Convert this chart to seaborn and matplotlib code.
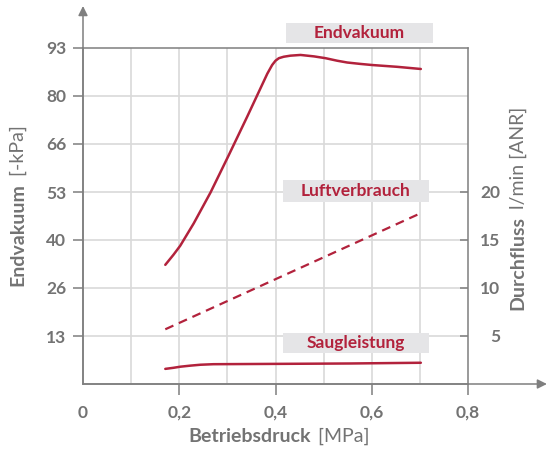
import pandas as pd
import matplotlib.pyplot as plt
import matplotlib.patches as mpatches
import seaborn as sns

# Data
druck_endvakuum = [0.171, 0.188, 0.202, 0.230, 0.265, 0.303, 0.341, 0.369, 0.383,
                   0.393, 0.400, 0.407, 0.417, 0.431, 0.452, 0.480, 0.504, 0.528,
                   0.549, 0.577, 0.601, 0.653, 0.702]
endvakuum = [33.1, 35.9, 38.4, 44.6, 53.2, 63.6, 74.2, 82.2, 86.2,
             88.6, 89.8, 90.5, 90.9, 91.2, 91.4, 91.0, 90.5, 89.8,
             89.3, 88.9, 88.6, 88.1, 87.5]

druck_luft = [0.171, 0.702]
luftverbrauch = [5.7, 17.8]          # l/min (right axis)

druck_saug = [0.171, 0.188, 0.202, 0.223, 0.244, 0.271, 0.417, 0.556, 0.702]
saugleistung = [4.2, 4.5, 4.8, 5.1, 5.35, 5.5, 5.6, 5.7, 5.9]   # left axis scale

x_ticks = [0, 0.2, 0.4, 0.6, 0.8]
x_labels = ["0", "0,2", "0,4", "0,6", "0,8"]
y_ticks = [13.33, 26.67, 40.0, 53.33, 66.67, 80.0, 93.33]
y_labels = ["13", "26", "40", "53", "66", "80", "93"]
y2_ticks = [5, 10, 15, 20]
y2_labels = ["5", "10", "15", "20"]

sns.set_style("white")
plt.rcParams["font.family"] = ["Lato", "DejaVu Sans"]

RED = "#b2223c"
GRAY = "#7f7f7f"
TXT = "#737373"
GRID = "#d9d9d9"

W, H = 548, 453
fig = plt.figure(figsize=(W / 100, H / 100), dpi=100)
ax = fig.add_axes([83 / W, (H - 384) / H, (468 - 83) / W, (384 - 48) / H])

df_e = pd.DataFrame({"x": druck_endvakuum, "y": endvakuum})
df_s = pd.DataFrame({"x": druck_saug, "y": saugleistung})
sns.lineplot(data=df_e, x="x", y="y", ax=ax, color=RED, lw=1.8, zorder=5)
sns.lineplot(data=df_s, x="x", y="y", ax=ax, color=RED, lw=1.8, zorder=5)

ax.set_xlim(0, 0.8)
ax.set_ylim(0, 93.33)

# grid
for gx in [0.1, 0.2, 0.3, 0.4, 0.5, 0.6, 0.7]:
    ax.axvline(gx, color=GRID, lw=1.2, zorder=0)
for gy in y_ticks[:-1]:
    ax.axhline(gy, color=GRID, lw=1.2, zorder=0)

ax.set_xticks(x_ticks)
ax.set_xticklabels(x_labels)
ax.set_yticks(y_ticks)
ax.set_yticklabels(y_labels)
ax.tick_params(axis="x", length=8, width=1.1, color=GRAY, pad=7,
               labelsize=12.5, labelcolor=TXT, direction="out", bottom=True)
ax.tick_params(axis="y", length=7, width=1.1, color=GRAY, pad=5,
               labelsize=12.5, labelcolor=TXT, direction="out", left=True)
ax.xaxis.get_major_ticks()[0].tick1line.set_visible(False)
for lab in ax.get_xticklabels() + ax.get_yticklabels():
    lab.set_fontweight("bold")
ax.set_xlabel("")
ax.set_ylabel("")

for s in ["left", "bottom", "top", "right"]:
    ax.spines[s].set_visible(True)
    ax.spines[s].set_color(GRAY)
    ax.spines[s].set_linewidth(1.1)

# right axis
ax2 = ax.twinx()
df_l = pd.DataFrame({"x": druck_luft, "y": luftverbrauch})
sns.lineplot(data=df_l, x="x", y="y", ax=ax2, color=RED, lw=1.6,
             linestyle=(0, (4, 2.7)), zorder=5)
ax2.set_ylim(0, 35)
ax2.set_yticks(y2_ticks)
ax2.set_yticklabels(y2_labels)
ax2.tick_params(axis="y", length=6, width=1.1, color=GRAY, pad=23,
                labelsize=12.5, labelcolor=TXT, direction="in", right=True)
for lab in ax2.get_yticklabels():
    lab.set_fontweight("bold")
    lab.set_horizontalalignment("right")
ax2.set_ylabel("")
for s in ax2.spines.values():
    s.set_visible(False)

# axis arrows
ax.annotate("", xy=(0, 1.125), xytext=(0, 0), xycoords="axes fraction",
            arrowprops=dict(arrowstyle="-|>", color=GRAY, lw=1.1, mutation_scale=14,
                            shrinkA=0, shrinkB=0), annotation_clip=False)
ax.annotate("", xy=(1.205, 0), xytext=(0, 0), xycoords="axes fraction",
            arrowprops=dict(arrowstyle="-|>", color=GRAY, lw=1.1, mutation_scale=14,
                            shrinkA=0, shrinkB=0), annotation_clip=False)

# series labels in grey boxes
for (x0, x1, y0, y1, name) in [(0.421, 0.727, 94.7, 100.3, "Endvakuum"),
                               (0.415, 0.719, 50.6, 56.7, "Luftverbrauch"),
                               (0.415, 0.719, 8.6, 14.2, "Saugleistung")]:
    ax.add_patch(mpatches.Rectangle((x0, y0), x1 - x0, y1 - y0, facecolor="#e5e5e7",
                                    edgecolor="none", clip_on=False, zorder=6))
    ax.text((x0 + x1) / 2, (y0 + y1) / 2, name, ha="center", va="center",
            color=RED, fontsize=12.5, fontweight="bold", zorder=7, clip_on=False)

# axis titles (bold part + unit)
fig.text(311 / W, (H - 442) / H, "Betriebsdruck", ha="right", va="baseline",
         fontsize=14, fontweight="bold", color=TXT)
fig.text(313 / W, (H - 442) / H, " [MPa]", ha="left", va="baseline",
         fontsize=14, color=TXT)

fig.text(18 / W, (H - 183) / H, "Endvakuum", rotation=90, ha="center", va="top",
         fontsize=14, fontweight="bold", color=TXT)
fig.text(18 / W, (H - 181) / H, " [-kPa]", rotation=90, ha="center", va="bottom",
         fontsize=14, color=TXT)

fig.text(518 / W, (H - 216) / H, "Durchfluss", rotation=90, ha="center", va="top",
         fontsize=14, fontweight="bold", color=TXT)
fig.text(518 / W, (H - 214) / H, " l/min [ANR]", rotation=90, ha="center", va="bottom",
         fontsize=14, color=TXT)

fig.savefig("out.png", dpi=100)
